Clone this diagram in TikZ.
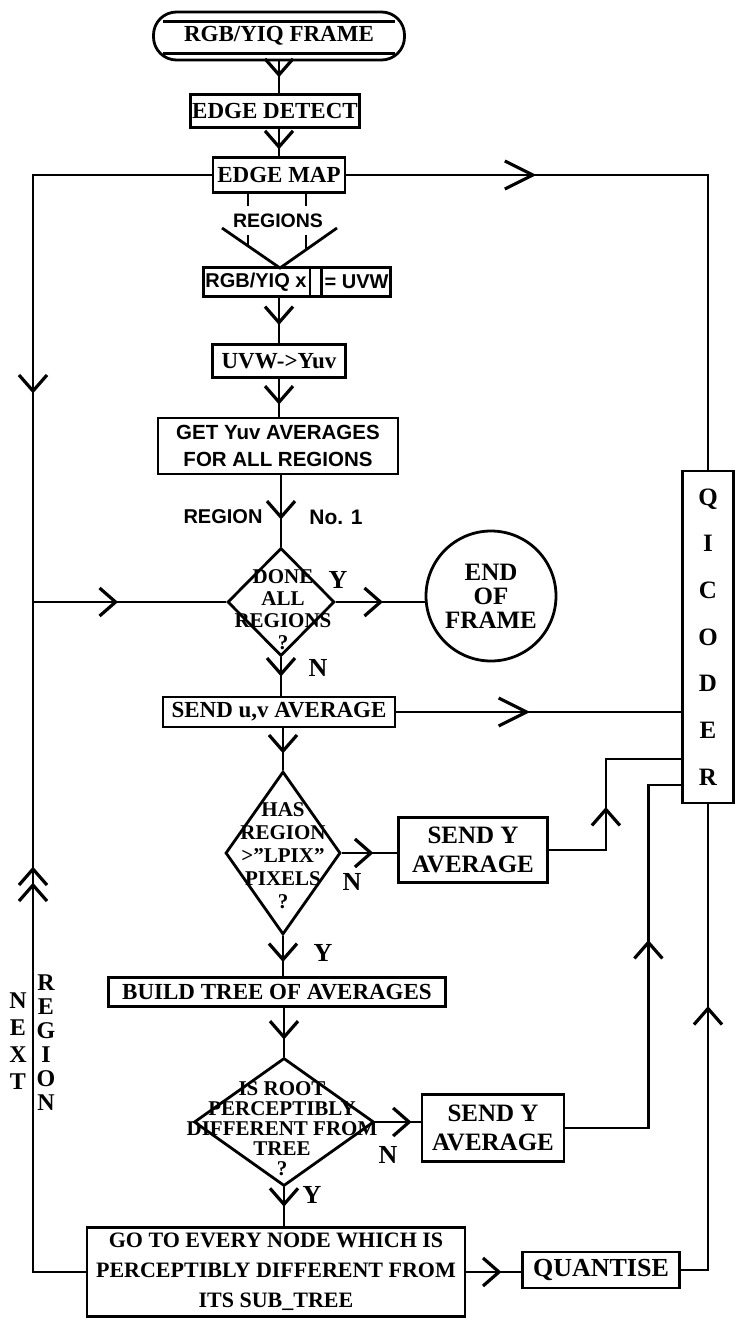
\documentclass[tikz,border=0pt]{standalone}
\usepackage{fontspec}
\setmainfont{Liberation Serif}
\setsansfont{Liberation Sans}
\usetikzlibrary{shapes.geometric, shapes.multipart, arrows.meta, calc, decorations.markings}
\newcommand{\flowfont}{\fontsize{23}{28}\selectfont\bfseries}
\newcommand{\askfont}{\fontsize{21}{22}\selectfont\bfseries}
\newcommand{\ynfont}{\fontsize{26}{26}\selectfont\bfseries}
\tikzset{
    chev/.tip={Straight Barb[length=16pt,width=28pt,line width=3.2pt]},
    chevl/.tip={Straight Barb[length=28pt,width=28pt,line width=3.2pt]}
}

\begin{document}
\begin{tikzpicture}[
    x=1pt, y=-1pt,
    line/.style={line width=2.8pt},
    box/.style={draw, line width=2.8pt, inner sep=2pt, font=\flowfont},
    decision/.style={draw, diamond, line width=2.8pt, inner sep=0pt},
    asktext/.style={align=center, font=\askfont, inner sep=0pt},
    yn/.style={font=\ynfont, inner sep=0pt},
    flow/.style={line, postaction={decorate}, decoration={markings, mark=at position #1 with {\arrow{chev}}}},
    flow/.default=0.5,
    flowl/.style={line, postaction={decorate}, decoration={markings, mark=at position #1 with {\arrow{chevl}}}}
]
    \useasboundingbox (0,0) rectangle (736,1319);

    % Top of the chart
    \node[box, rounded corners=23pt, minimum width=251, minimum height=48, inner sep=0pt] (start) at (279,36) {RGB/YIQ FRAME};
    \draw[line] ($(start.north west)+(11,11)$) -- ($(start.north east)+(-11,11)$)
                ($(start.south west)+(11,-8)$) -- ($(start.south east)+(-11,-8)$);
    \node[box, minimum width=163, minimum height=33] (detect) at (275,111) {EDGE DETECT};
    \node[box, minimum width=132, minimum height=35] (map) at (279,175) {EDGE MAP};

    % Regions funnel
    \node[font=\fontsize{19.5}{20}\selectfont\sffamily\bfseries] (regions) at (278,221) {REGIONS};
    \coordinate (fun) at (280,268);
    \draw[line] (248,193) -- (248,206) (306,193) -- (306,206);
    \draw[line] (248,235) -- (248,246) (306,235) -- (306,250);
    \draw[line] (222,228) -- (fun) -- (337,228);

    \node[box, font=\fontsize{20}{20}\selectfont\sffamily\bfseries, rectangle split, rectangle split horizontal, rectangle split parts=3, minimum height=29, inner sep=2pt] (rgb) at (297,282) {RGB/YIQ x\nodepart{two}\hspace*{14pt}\nodepart{three}= UVW};
    \node[box, minimum width=133, minimum height=33] (uvw) at (279,361) {UVW->Yuv};
    \node[box, font=\fontsize{20.5}{27}\selectfont\sffamily\bfseries, align=center, minimum width=240, minimum height=56] (get) at (278,446) {GET Yuv AVERAGES\\FOR ALL REGIONS};
    \node[font=\fontsize{20}{20}\selectfont\sffamily\bfseries] (regno) at (223,517) {REGION};
    \node[font=\fontsize{21}{21}\selectfont\sffamily\bfseries] (no1) at (336,517) {No. 1};

    % First decision
    \node[decision, minimum width=107, minimum height=108] (done) at (281,602) {};
    \node[asktext] (donetxt) at (283,610) {DONE\\ALL\\REGIONS\\?};
    \node[draw, circle, line width=2.8pt, minimum size=130, align=center, font=\fontsize{25}{24}\selectfont\bfseries, inner sep=0pt] (eof) at (491,596) {END\\OF\\FRAME};
    \node[yn] (doney) at (338,580) {Y};
    \node[yn] (donen) at (318,668) {N};
    \node[box, minimum width=232, minimum height=30] (sendu) at (279,712) {SEND u,v AVERAGE};

    % Second decision
    \node[decision, minimum width=115, minimum height=163] (has) at (283,853) {};
    \node[asktext, font=\fontsize{21}{23}\selectfont\bfseries] (hastxt) at (283,856) {HAS\\REGION\\>"LPIX"\\PIXELS\\?};
    \node[box, align=center, font=\fontsize{25}{29}\selectfont\bfseries, minimum width=149, minimum height=65] (sendy1) at (473,850) {SEND Y\\AVERAGE};
    \node[yn] (hasn) at (352,882) {N};
    \node[yn] (hasy) at (323,953) {Y};
    \node[box, minimum width=337, minimum height=29] (build) at (277,992) {BUILD TREE OF AVERAGES};

    % Third decision
    \node[decision, minimum width=180, minimum height=128] (root) at (284,1122) {};
    \node[asktext, font=\fontsize{21}{20}\selectfont\bfseries] (roottxt) at (282,1129) {IS ROOT\\PERCEPTIBLY\\DIFFERENT FROM\\TREE\\?};
    \node[box, align=center, font=\fontsize{25}{29}\selectfont\bfseries, minimum width=142, minimum height=67] (sendy2) at (493,1128) {SEND Y\\AVERAGE};
    \node[yn] (rootn) at (388,1155) {N};
    \node[yn] (rooty) at (312,1195) {Y};
    \node[box, align=center, font=\fontsize{22}{30}\selectfont\bfseries, minimum width=378, minimum height=89] (goto) at (276,1272) {GO TO EVERY NODE WHICH IS\\PERCEPTIBLY DIFFERENT FROM\\ITS SUB\_TREE};
    \node[box, font=\fontsize{26}{27}\selectfont\bfseries, minimum width=157, minimum height=36] (quant) at (601,1270) {QUANTISE};

    % Coder and loop labels
    \node[box, align=center, font=\fontsize{25}{46.7}\selectfont\bfseries, minimum width=51, minimum height=332, inner sep=0pt] (qic) at (708,637) {Q\\I\\C\\O\\D\\E\\R};
    \node[align=center, font=\fontsize{24}{27}\selectfont\bfseries, inner sep=0pt] (next) at (18,1041) {N\\E\\X\\T};
    \node[align=center, font=\fontsize{24}{24}\selectfont\bfseries, inner sep=0pt] (nextreg) at (46,1043) {R\\E\\G\\I\\O\\N};
    \coordinate (jn) at (33,602);
    \path (qic.west) ++(0,122) coordinate (qa);
    \path (qic.west) ++(0,148) coordinate (qb);

    % Main flow
    \draw[flow=0.5] (start.south) -- (start.south |- detect.north);
    \draw[flow=0.75] (map.north |- detect.south) -- (map.north);
    \draw[flow=0.6] (uvw.north |- rgb.south) -- (uvw.north);
    \draw[flow=0.68] (uvw.south) -- (uvw.south |- get.north);
    \draw[flow=0.62] (done.north |- get.south) -- (done.north);
    \draw[flow=0.53] (done.east) -- (done.east -| eof.west);
    \draw[flow=0.5] (done.south) -- (done.south |- sendu.north);
    \draw[flow=0.6] (has.north |- sendu.south) -- (has.north);
    \draw[flow=0.57] (has.east) -- (has.east -| sendy1.west);
    \draw[flow=0.65] (has.south) -- (has.south |- build.north);
    \draw[flow=0.65] (root.north |- build.south) -- (root.north);
    \draw[flow=0.8] (root.east) -- (root.east -| sendy2.west);
    \draw[flow=0.5] (root.south) -- (root.south |- goto.north);
    \draw[flow=0.64] (goto.east) -- (goto.east -| quant.west);

    % Loop back on the left
    \draw[flow=397pt] (map.west) -| (jn);
    \draw[flow=85pt] (jn) -- (done.west);
    \draw[line, postaction={decorate}, decoration={markings, mark=at position 442pt with {\arrow{chev}}, mark=at position 458pt with {\arrow{chev}}}] (goto.west) -| (jn);

    % Into the coder
    \draw[flowl=190pt] (map.east) -| (qic.north);
    \draw[flowl=0.47] (sendu.east) -- (sendu.east -| qic.west);
    \draw[flow=100pt] (sendy1.east) -- ++(57,0) |- (qa);
    \draw[flow=271pt] (sendy2.east) -- ++(83,0) |- (qb);
    \draw[flow=291pt] (quant.east) -| (qic.south);

\end{tikzpicture}
\end{document}
